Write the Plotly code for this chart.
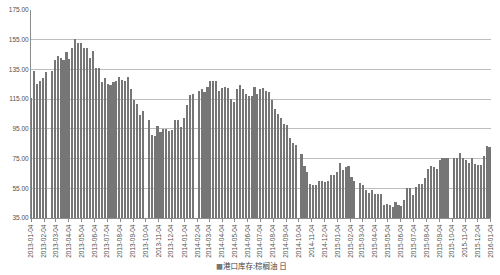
import datetime as dt
import plotly.graph_objects as go

start_date = "2013-01-04"
series_name = "港口库存:棕榈油 日"

# weekly values (None = missing week)
seg_2013a = [115.9, 134.1, 125.5, 127.5, 129.5, 133.5]
seg_2013b = [134.1, 141.4, 144.1, 142.6, 141.4, 146.5, 142.1, 149.7, 155.4, 153.0,
             152.6, 149.2, 149.2, 142.6, 147.5, 136.3, 136.3, 126.3, 129.2, 125.2,
             124.3, 126.5, 127.5, 129.7, 128.1, 127.0, 130.1, 121.7, 114.2, 111.5,
             104.3, 107.0]
seg_2013c = [100.8, 91.0, 90.2, 96.8, 93.0, 94.6, 94.6, 93.6, 94.5, 100.8,
             100.8, 96.3, 102.5, 111.0, 118.1, 118.3]
seg_2014a = [120.3, 122.1, 119.9, 123.0, 127.0, 127.5, 127.0, 120.8, 122.6, 123.2,
             122.6, 114.8, 113.2, 121.5, 124.8, 121.5, 118.5, 117.0, 117.0, 123.0,
             118.5, 121.5, 122.8, 120.5, 119.9, 114.2, 108.1, 104.8, 102.1, 98.3,
             97.7, 88.8, 85.2, 84.2]
seg_2014b = [78.1, 70.3, 66.0, 57.7, 57.0, 57.5, 59.9, 59.9, 59.2, 59.9,
             63.7, 63.7, 65.9, 72.1, 67.5, 69.2, 69.7, 62.5, 59.9]
seg_2015a = [58.5, 57.0, 53.7, 51.5, 54.1, 51.0, 51.0, 51.0, 43.7, 44.3,
             43.7, 42.1, 45.9, 43.7, 43.0, 47.0, 55.5, 55.5, 50.3, 55.9,
             57.7, 57.7, 62.1, 68.1, 70.3, 69.2, 68.1, 74.1, 75.5, 75.5,
             75.5]
seg_2015b = [75.5, 75.5, 78.5, 75.5, 74.1, 71.9, 75.5, 71.5, 71.0, 71.0,
             77.0, 83.7, 82.5]

values = (seg_2013a + [None] + seg_2013b + [None] + seg_2013c + [None]
          + seg_2014a + [None] + seg_2014b + [None] + seg_2015a + [None] + seg_2015b)

d0 = dt.date.fromisoformat(start_date)
dates = [d0 + dt.timedelta(days=7 * i) for i in range(len(values))]

tick_dates = []
for y in range(2013, 2016):
    for m in range(1, 13):
        tick_dates.append(dt.date(y, m, 4))
tick_dates.append(dt.date(2016, 1, 4))
tick_text = [t.isoformat() for t in tick_dates]

y_ticks = [35, 55, 75, 95, 115, 135, 155, 175]

bar_color = "#767676"

fig = go.Figure()
fig.add_trace(go.Bar(
    x=dates, y=values, name=series_name,
    marker=dict(color=bar_color, line=dict(width=0)),
    width=7 * 24 * 3600 * 1000 * 0.72,
    showlegend=False,
))

# legend drawn as text: small square swatch + series name
fig.add_annotation(
    xref="paper", yref="paper", x=0.48, y=-0.226,
    xanchor="center", yanchor="middle", showarrow=False,
    text=f"<span style='color:{bar_color};font-size:7px'>■</span>{series_name}",
    font=dict(family="Noto Sans CJK SC, sans-serif", size=7.5, color="#404040"),
)

fig.update_layout(
    width=500, height=275,
    margin=dict(l=31, r=8, t=6, b=57),
    paper_bgcolor="white", plot_bgcolor="white",
    font=dict(family="Liberation Sans, Arial, sans-serif", size=7, color="#595959"),
    bargap=0,
    showlegend=False,
    xaxis=dict(
        type="date",
        range=["2013-01-03 12:00", "2016-01-04 12:00"],
        tickmode="array", tickvals=tick_dates, ticktext=tick_text,
        tickangle=-90, tickfont=dict(size=6.5, color="#505050"),
        showgrid=False, showline=True, linecolor="#8c8c8c", linewidth=1,
        ticks="outside", ticklen=3, tickcolor="#8c8c8c",
        zeroline=False,
    ),
    yaxis=dict(
        range=[35, 175], tickvals=y_ticks, tickformat=".2f",
        tickfont=dict(size=6.5, color="#505050"),
        showgrid=True, gridcolor="#bdbdbd", gridwidth=1,
        showline=True, linecolor="#8c8c8c", linewidth=1,
        ticks="", zeroline=False,
    ),
)

fig.write_html("out.html")
